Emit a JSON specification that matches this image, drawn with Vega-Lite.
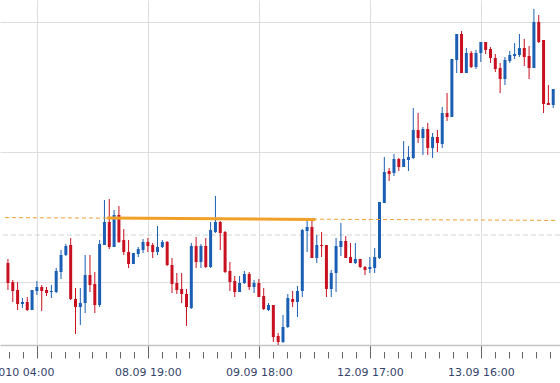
{
  "$schema": "https://vega.github.io/schema/vega-lite/v6.json",
  "width": 560,
  "height": 345,
  "autosize": {"type": "none"},
  "padding": {"left": 0, "top": 0, "right": 0, "bottom": 38},
  "background": "white",
  "config": {"view": {"stroke": null}},
  "datasets": {
    "candles": [
      {"i":0,"o":1.2682,"h":1.2686,"l":1.2655,"c":1.2662},
      {"i":1,"o":1.2663,"h":1.2665,"l":1.2643,"c":1.2654},
      {"i":2,"o":1.2655,"h":1.2663,"l":1.2635,"c":1.2641},
      {"i":3,"o":1.2641,"h":1.2647,"l":1.2637,"c":1.2643},
      {"i":4,"o":1.2643,"h":1.2648,"l":1.2634,"c":1.2635},
      {"i":5,"o":1.2635,"h":1.2655,"l":1.2635,"c":1.2655},
      {"i":6,"o":1.2654,"h":1.2664,"l":1.2650,"c":1.2658},
      {"i":7,"o":1.2658,"h":1.2660,"l":1.2634,"c":1.2654},
      {"i":8,"o":1.2655,"h":1.2658,"l":1.2649,"c":1.2652},
      {"i":9,"o":1.2653,"h":1.2660,"l":1.2647,"c":1.2654},
      {"i":10,"o":1.2653,"h":1.2677,"l":1.2652,"c":1.2674},
      {"i":11,"o":1.2673,"h":1.2695,"l":1.2666,"c":1.2690},
      {"i":12,"o":1.2690,"h":1.2701,"l":1.2689,"c":1.2699},
      {"i":13,"o":1.2700,"h":1.2707,"l":1.2645,"c":1.2646},
      {"i":14,"o":1.2646,"h":1.2657,"l":1.2611,"c":1.2638},
      {"i":15,"o":1.2638,"h":1.2657,"l":1.2620,"c":1.2642},
      {"i":16,"o":1.2642,"h":1.2690,"l":1.2632,"c":1.2670},
      {"i":17,"o":1.2670,"h":1.2690,"l":1.2653,"c":1.2660},
      {"i":18,"o":1.2661,"h":1.2673,"l":1.2632,"c":1.2640},
      {"i":19,"o":1.2640,"h":1.2705,"l":1.2638,"c":1.2701},
      {"i":20,"o":1.2700,"h":1.2745,"l":1.2700,"c":1.2723},
      {"i":21,"o":1.2723,"h":1.2746,"l":1.2696,"c":1.2698},
      {"i":22,"o":1.2698,"h":1.2735,"l":1.2698,"c":1.2730},
      {"i":23,"o":1.2730,"h":1.2739,"l":1.2702,"c":1.2703},
      {"i":24,"o":1.2705,"h":1.2716,"l":1.2690,"c":1.2693},
      {"i":25,"o":1.2693,"h":1.2705,"l":1.2677,"c":1.2681},
      {"i":26,"o":1.2681,"h":1.2692,"l":1.2681,"c":1.2692},
      {"i":27,"o":1.2691,"h":1.2698,"l":1.2688,"c":1.2696},
      {"i":28,"o":1.2695,"h":1.2706,"l":1.2692,"c":1.2703},
      {"i":29,"o":1.2703,"h":1.2707,"l":1.2693,"c":1.2699},
      {"i":30,"o":1.2700,"h":1.2702,"l":1.2687,"c":1.2693},
      {"i":31,"o":1.2693,"h":1.2719,"l":1.2690,"c":1.2698},
      {"i":32,"o":1.2698,"h":1.2705,"l":1.2697,"c":1.2703},
      {"i":33,"o":1.2703,"h":1.2704,"l":1.2679,"c":1.2680},
      {"i":34,"o":1.2680,"h":1.2687,"l":1.2652,"c":1.2661},
      {"i":35,"o":1.2662,"h":1.2672,"l":1.2651,"c":1.2655},
      {"i":36,"o":1.2656,"h":1.2672,"l":1.2642,"c":1.2651},
      {"i":37,"o":1.2651,"h":1.2656,"l":1.2619,"c":1.2638},
      {"i":38,"o":1.2637,"h":1.2702,"l":1.2636,"c":1.2699},
      {"i":39,"o":1.2699,"h":1.2708,"l":1.2677,"c":1.2683},
      {"i":40,"o":1.2683,"h":1.2701,"l":1.2677,"c":1.2699},
      {"i":41,"o":1.2699,"h":1.2707,"l":1.2677,"c":1.2678},
      {"i":42,"o":1.2678,"h":1.2723,"l":1.2677,"c":1.2715},
      {"i":43,"o":1.2713,"h":1.2749,"l":1.2712,"c":1.2723},
      {"i":44,"o":1.2723,"h":1.2724,"l":1.2695,"c":1.2712},
      {"i":45,"o":1.2713,"h":1.2714,"l":1.2672,"c":1.2673},
      {"i":46,"o":1.2674,"h":1.2683,"l":1.2654,"c":1.2663},
      {"i":47,"o":1.2664,"h":1.2669,"l":1.2648,"c":1.2653},
      {"i":48,"o":1.2653,"h":1.2669,"l":1.2653,"c":1.2662},
      {"i":49,"o":1.2662,"h":1.2674,"l":1.2661,"c":1.2671},
      {"i":50,"o":1.2671,"h":1.2673,"l":1.2655,"c":1.2658},
      {"i":51,"o":1.2658,"h":1.2665,"l":1.2652,"c":1.2662},
      {"i":52,"o":1.2662,"h":1.2666,"l":1.2648,"c":1.2648},
      {"i":53,"o":1.2649,"h":1.2657,"l":1.2635,"c":1.2636},
      {"i":54,"o":1.2635,"h":1.2642,"l":1.2634,"c":1.2640},
      {"i":55,"o":1.2640,"h":1.2640,"l":1.2603,"c":1.2608},
      {"i":56,"o":1.2609,"h":1.2612,"l":1.2600,"c":1.2603},
      {"i":57,"o":1.2603,"h":1.2630,"l":1.2602,"c":1.2618},
      {"i":58,"o":1.2618,"h":1.2651,"l":1.2617,"c":1.2647},
      {"i":59,"o":1.2646,"h":1.2654,"l":1.2638,"c":1.2643},
      {"i":60,"o":1.2643,"h":1.2659,"l":1.2628,"c":1.2654},
      {"i":61,"o":1.2654,"h":1.2716,"l":1.2648,"c":1.2715},
      {"i":62,"o":1.2714,"h":1.2725,"l":1.2693,"c":1.2718},
      {"i":63,"o":1.2718,"h":1.2725,"l":1.2687,"c":1.2687},
      {"i":64,"o":1.2687,"h":1.2710,"l":1.2682,"c":1.2700},
      {"i":65,"o":1.2700,"h":1.2713,"l":1.2688,"c":1.2699},
      {"i":66,"o":1.2700,"h":1.2700,"l":1.2648,"c":1.2656},
      {"i":67,"o":1.2656,"h":1.2675,"l":1.2648,"c":1.2672},
      {"i":68,"o":1.2672,"h":1.2707,"l":1.2653,"c":1.2699},
      {"i":69,"o":1.2698,"h":1.2722,"l":1.2689,"c":1.2704},
      {"i":70,"o":1.2704,"h":1.2709,"l":1.2687,"c":1.2687},
      {"i":71,"o":1.2688,"h":1.2702,"l":1.2682,"c":1.2682},
      {"i":72,"o":1.2682,"h":1.2702,"l":1.2681,"c":1.2686},
      {"i":73,"o":1.2686,"h":1.2686,"l":1.2677,"c":1.2678},
      {"i":74,"o":1.2678,"h":1.2679,"l":1.2670,"c":1.2675},
      {"i":75,"o":1.2676,"h":1.2688,"l":1.2672,"c":1.2678},
      {"i":76,"o":1.2677,"h":1.2697,"l":1.2672,"c":1.2688},
      {"i":77,"o":1.2687,"h":1.2743,"l":1.2686,"c":1.2743},
      {"i":78,"o":1.2742,"h":1.2788,"l":1.2742,"c":1.2773},
      {"i":79,"o":1.2774,"h":1.2777,"l":1.2764,"c":1.2771},
      {"i":80,"o":1.2772,"h":1.2791,"l":1.2769,"c":1.2786},
      {"i":81,"o":1.2786,"h":1.2787,"l":1.2774,"c":1.2778},
      {"i":82,"o":1.2778,"h":1.2804,"l":1.2778,"c":1.2786},
      {"i":83,"o":1.2785,"h":1.2799,"l":1.2774,"c":1.2788},
      {"i":84,"o":1.2787,"h":1.2837,"l":1.2786,"c":1.2815},
      {"i":85,"o":1.2815,"h":1.2832,"l":1.2802,"c":1.2807},
      {"i":86,"o":1.2807,"h":1.2818,"l":1.2790,"c":1.2816},
      {"i":87,"o":1.2816,"h":1.2822,"l":1.2790,"c":1.2797},
      {"i":88,"o":1.2797,"h":1.2812,"l":1.2787,"c":1.2808},
      {"i":89,"o":1.2808,"h":1.2815,"l":1.2793,"c":1.2802},
      {"i":90,"o":1.2801,"h":1.2838,"l":1.2797,"c":1.2832},
      {"i":91,"o":1.2832,"h":1.2852,"l":1.2824,"c":1.2828},
      {"i":92,"o":1.2828,"h":1.2886,"l":1.2828,"c":1.2886},
      {"i":93,"o":1.2885,"h":1.2911,"l":1.2872,"c":1.2911},
      {"i":94,"o":1.2911,"h":1.2914,"l":1.2872,"c":1.2872},
      {"i":95,"o":1.2872,"h":1.2897,"l":1.2872,"c":1.2892},
      {"i":96,"o":1.2892,"h":1.2894,"l":1.2877,"c":1.2878},
      {"i":97,"o":1.2878,"h":1.2895,"l":1.2876,"c":1.2892},
      {"i":98,"o":1.2892,"h":1.2903,"l":1.2883,"c":1.2903},
      {"i":99,"o":1.2903,"h":1.2903,"l":1.2891,"c":1.2895},
      {"i":100,"o":1.2896,"h":1.2898,"l":1.2882,"c":1.2887},
      {"i":101,"o":1.2887,"h":1.2891,"l":1.2873,"c":1.2876},
      {"i":102,"o":1.2877,"h":1.2882,"l":1.2852,"c":1.2866},
      {"i":103,"o":1.2866,"h":1.2888,"l":1.2860,"c":1.2885},
      {"i":104,"o":1.2884,"h":1.2894,"l":1.2882,"c":1.2890},
      {"i":105,"o":1.2889,"h":1.2902,"l":1.2886,"c":1.2891},
      {"i":106,"o":1.2890,"h":1.2911,"l":1.2888,"c":1.2897},
      {"i":107,"o":1.2897,"h":1.2906,"l":1.2879,"c":1.2888},
      {"i":108,"o":1.2889,"h":1.2899,"l":1.2866,"c":1.2877},
      {"i":109,"o":1.2877,"h":1.2936,"l":1.2877,"c":1.2923},
      {"i":110,"o":1.2923,"h":1.2930,"l":1.2902,"c":1.2903},
      {"i":111,"o":1.2905,"h":1.2905,"l":1.2832,"c":1.2841},
      {"i":112,"o":1.2842,"h":1.2860,"l":1.2840,"c":1.2840},
      {"i":113,"o":1.2840,"h":1.2856,"l":1.2837,"c":1.2856}
    ],
    "trend": [{"i": -0.61, "p": 1.27274}, {"i": 113.37, "p": 1.27246}],
    "trendSolid": [{"i": 20.56, "p": 1.27269}, {"i": 63.7, "p": 1.27256}],
    "level": [{"p": 1.2710}]
  },
  "layer": [
    {
      "data": {"name": "level"},
      "mark": {"type": "rule", "color": "#d4d4d4", "strokeWidth": 1, "strokeDash": [5, 3]},
      "encoding": {
        "y": {"field": "p", "type": "quantitative", "title": null,
              "scale": {"domain": [1.26, 1.2945], "nice": false, "zero": false},
              "axis": {"values": [1.2663, 1.2793, 1.2923], "labels": false, "ticks": false, "domain": false, "grid": true, "gridColor": "#dedede", "gridWidth": 1, "title": null}}
      }
    },
    {
      "data": {"name": "candles"},
      "mark": {"type": "rule", "strokeWidth": 1},
      "encoding": {
        "x": {"field": "i", "type": "quantitative", "title": null,
              "scale": {"domain": [-0.61, 113.37], "nice": false, "zero": false},
              "axis": {
                "orient": "bottom",
                "values": [6, 29, 52, 75, 98],
                "labelExpr": "datum.value == 6 ? '07.09.2010 04:00' : datum.value == 29 ? '08.09 19:00' : datum.value == 52 ? '09.09 18:00' : datum.value == 75 ? '12.09 17:00' : '13.09 16:00'",
                "labelFlush": false, "labelOverlap": false, "labelBound": false,
                "labelFont": "DejaVu Sans", "labelFontSize": 11, "labelColor": "#34436a",
                "labelAlign": {"condition": {"test": "datum.value < 10", "value": "right"}, "value": "center"},
                "labelOffset": {"condition": {"test": "datum.value < 10", "value": 17}, "value": 0},
                "labelPadding": 8,
                "tickSize": 13, "tickColor": "#666666", "tickWidth": 1,
                "domainColor": "#c4c4c4", "domainWidth": 1.5,
                "grid": true, "gridColor": "#dedede", "gridWidth": 1,
                "title": null
              }},
        "y": {"field": "l", "type": "quantitative", "title": null},
        "y2": {"field": "h"},
        "color": {"condition": {"test": "datum.c >= datum.o", "value": "#1a5fb4"}, "value": "#c81020"}
      }
    },
    {
      "data": {"name": "candles"},
      "mark": {"type": "bar", "size": 3},
      "encoding": {
        "x": {"field": "i", "type": "quantitative", "axis": null},
        "y": {"field": "o", "type": "quantitative", "title": null},
        "y2": {"field": "c"},
        "color": {"condition": {"test": "datum.c >= datum.o", "value": "#1a5fb4"}, "value": "#c81020"}
      }
    },
    {
      "data": {"name": "trend"},
      "mark": {"type": "line", "color": "#f0a030", "strokeWidth": 1, "strokeDash": [4, 3]},
      "encoding": {
        "x": {"field": "i", "type": "quantitative",
              "axis": {
                "orient": "top", "offset": -358,
                "values": [0.25, 3.125, 8.875, 11.75, 14.625, 17.5, 20.375, 23.25, 26.125, 31.875, 34.75, 37.625, 40.5, 43.375, 46.25, 49.125, 54.875, 57.75, 60.625, 63.5, 66.375, 69.25, 72.125, 77.875, 80.75, 83.625, 86.5, 89.375, 92.25, 95.125, 100.875, 103.75, 106.625, 109.5, 112.375],
                "labels": false, "domain": false, "grid": false,
                "ticks": true, "tickSize": 6.5, "tickColor": "#666666", "tickWidth": 1,
                "title": null
              }},
        "y": {"field": "p", "type": "quantitative", "title": null}
      }
    },
    {
      "data": {"name": "trendSolid"},
      "mark": {"type": "line", "color": "#f0a028", "strokeWidth": 3},
      "encoding": {
        "x": {"field": "i", "type": "quantitative", "axis": null},
        "y": {"field": "p", "type": "quantitative", "title": null}
      }
    }
  ],
  "resolve": {"axis": {"x": "independent"}}
}
